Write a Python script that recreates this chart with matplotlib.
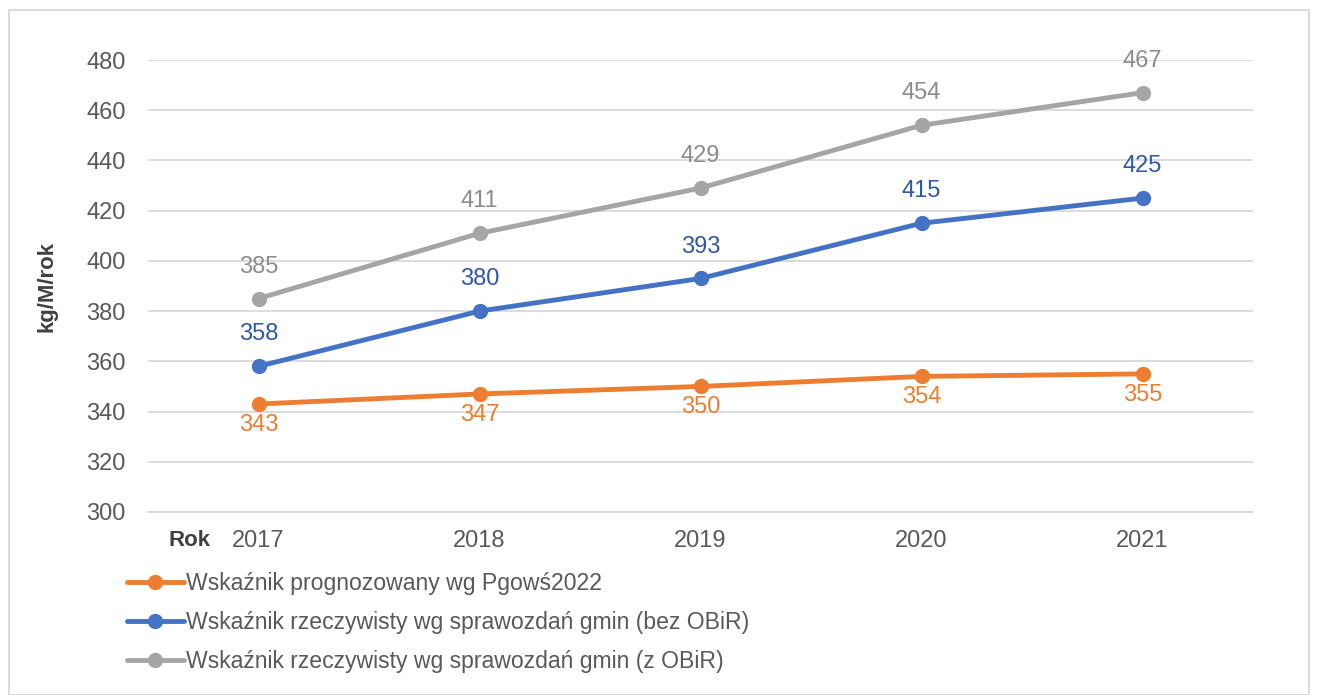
import matplotlib.pyplot as plt
from matplotlib.patches import Rectangle

years = ["2017", "2018", "2019", "2020", "2021"]
prognoza = [343, 347, 350, 354, 355]
bez_obir = [358, 380, 393, 415, 425]
z_obir = [385, 411, 429, 454, 467]

series_names = [
	"Wskaźnik prognozowany wg Pgowś2022",
	"Wskaźnik rzeczywisty wg sprawozdań gmin (bez OBiR)",
	"Wskaźnik rzeczywisty wg sprawozdań gmin (z OBiR)",
]

plt.rcParams["font.family"] = ["Liberation Sans", "DejaVu Sans"]

fig = plt.figure(figsize=(13.17, 6.95), dpi=100)
ax = fig.add_axes([148 / 1317, 1 - 512 / 695, 1105 / 1317, 452 / 695])

x = list(range(len(years)))
styles = [
	(prognoza, "#ED7D31", "#ED7D31", -15),
	(bez_obir, "#4472C4", "#2F58A6", 23),
	(z_obir, "#A5A5A5", "#8C8C8C", 23),
]

for (values, color, label_color, offset), name in zip(styles, series_names):
	ax.plot(x, values, color=color, lw=3.5, marker="o", markersize=10, label=name,
		solid_capstyle="round", zorder=3)
	for xi, v in zip(x, values):
		ax.annotate(str(v), (xi, v), xytext=(0, offset), textcoords="offset points",
			ha="center", va="center", fontsize=17, color=label_color)

ax.set_xlim(-0.5, len(years) - 0.5)
ax.set_ylim(300, 480)
ax.set_yticks(range(300, 481, 20))
ax.set_xticks(x)
ax.set_xticklabels(years)
ax.tick_params(axis="both", length=0, labelsize=17, labelcolor="#595959")
ax.tick_params(axis="y", pad=16)
ax.tick_params(axis="x", pad=13)
ax.grid(axis="y", color="#D9D9D9", lw=1.3)
ax.set_axisbelow(True)
for side in ["top", "right", "left"]:
	ax.spines[side].set_visible(False)
ax.spines["bottom"].set_color("#D9D9D9")
ax.spines["bottom"].set_linewidth(1.3)

fig.text(47 / 1317, 1 - 286 / 695, "kg/M/rok", rotation=90, ha="center", va="center",
	fontsize=16, fontweight="bold", color="#404040")
fig.text(189 / 1317, 1 - 541 / 695, "Rok", ha="center", va="center",
	fontsize=16, fontweight="bold", color="#404040")

leg = fig.legend(loc="upper left", bbox_to_anchor=(118 / 1317, 1 - 563 / 695),
	frameon=False, fontsize=16.6, handlelength=2.45, handletextpad=0.1,
	labelspacing=0.68, borderaxespad=0)
for text in leg.get_texts():
	text.set_color("#595959")

fig.patches.append(Rectangle((9 / 1317, 0), 1300 / 1317, 1 - 10 / 695,
	transform=fig.transFigure, fill=False, edgecolor="#D9D9D9", lw=1.3))

fig.savefig("out.png", dpi=100)
